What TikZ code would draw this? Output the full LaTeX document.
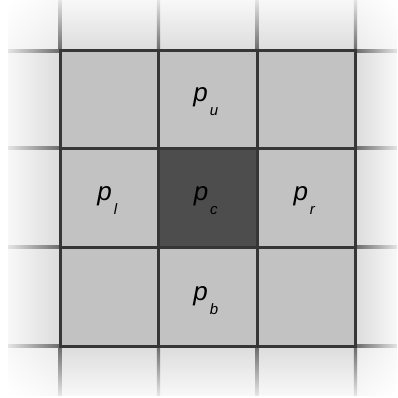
\documentclass[tikz,border=0pt]{standalone}
\usepackage{fontspec}
\setmainfont{Liberation Sans}
\usetikzlibrary{shadings}
\definecolor{cellgray}{HTML}{C2C2C2}
\definecolor{centergray}{HTML}{4D4D4D}
\definecolor{linegray}{HTML}{363636}
\definecolor{outgray}{HTML}{DCDCDC}
\definecolor{outlight}{HTML}{F8F8F8}
\definecolor{olinedark}{HTML}{6A6A6A}
\definecolor{olinelight}{HTML}{E4E4E4}
\newcommand\plab[1]{p\kern2pt\raisebox{-14pt}{\fontsize{15}{15}\selectfont #1}}
\tikzset{
  gridline/.style={draw=linegray, line width=3pt},
  lab/.style={anchor=base, inner sep=0pt, font=\fontsize{26}{26}\selectfont\itshape}
}
\begin{document}
\begin{tikzpicture}[x=1pt,y=-1pt]
\useasboundingbox (0,0) rectangle (397,398);
\fill[white] (0,0) rectangle (397,398);
% outer strips
\shade[left color=outlight, right color=outgray] (8,51) rectangle (60,346);
\shade[left color=outgray, right color=outlight] (355.5,51) rectangle (397,346);
\shade[top color=outlight, bottom color=outgray] (60,0) rectangle (355.5,51);
\shade[top color=outgray, bottom color=outlight] (60,346) rectangle (355.5,395);
% corners
\shade[upper left=white, upper right=outlight, lower left=outlight, lower right=outgray!60!white] (8,0) rectangle (60,51);
\shade[upper left=outlight, upper right=white, lower left=outgray!60!white, lower right=outlight] (355.5,0) rectangle (397,51);
\shade[upper left=outlight, upper right=outgray!60!white, lower left=white, lower right=outlight] (8,346) rectangle (60,395);
\shade[upper left=outgray!60!white, upper right=outlight, lower left=outlight, lower right=white] (355.5,346) rectangle (397,395);
% outer faded lines
\foreach \x in {60,158.5,257,355.5}{
  \shade[top color=olinelight, bottom color=olinedark] (\x-1.6,0) rectangle (\x+1.6,51);
  \shade[top color=olinedark, bottom color=olinelight] (\x-1.6,346) rectangle (\x+1.6,395);
}
\foreach \y in {51,148,247,346}{
  \shade[left color=olinelight, right color=olinedark] (8,\y-1.6) rectangle (60,\y+1.6);
  \shade[left color=olinedark, right color=olinelight] (355.5,\y-1.6) rectangle (397,\y+1.6);
}
% inner cells
\fill[cellgray] (60,51) rectangle (355.5,346);
\fill[centergray] (158.5,148) rectangle (257,247);
\foreach \x in {60,158.5,257,355.5}{
  \draw[gridline] (\x,49.5) -- (\x,347.5);
}
\foreach \y in {51,148,247,346}{
  \draw[gridline] (58.5,\y) -- (357,\y);
}
% labels
\node[lab] (pu) at (205.75,102) {\plab{u}};
\node[lab] (pl) at (107.25,200) {\plab{l}};
\node[lab] (pc) at (205.75,200) {\plab{c}};
\node[lab] (pr) at (304.25,200) {\plab{r}};
\node[lab] (pb) at (205.75,300) {\plab{b}};
\end{tikzpicture}
\end{document}
